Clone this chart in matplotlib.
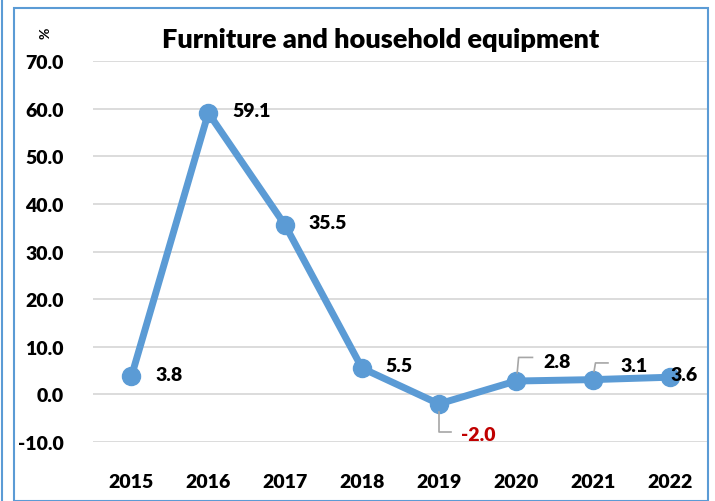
import matplotlib.pyplot as plt
from matplotlib.patches import Rectangle
from matplotlib.lines import Line2D

years = ["2015", "2016", "2017", "2018", "2019", "2020", "2021", "2022"]
values = [3.8, 59.1, 35.5, 5.5, -2.0, 2.8, 3.1, 3.6]
yticks = [-10, 0, 10, 20, 30, 40, 50, 60, 70]

blue = "#5B9BD5"
plt.rcParams["font.family"] = ["Lato", "DejaVu Sans"]

fig = plt.figure(figsize=(7.15, 5.02), dpi=100)
W, H = 715, 502
ax = fig.add_axes([93 / W, 1 - 443 / H, (708 - 93) / W, (443 - 62) / H])

x = list(range(len(years)))
ax.plot(x, values, color=blue, lw=5, marker="o", ms=13,
        markerfacecolor=blue, markeredgecolor=blue, solid_joinstyle="round")

ax.set_xlim(-0.5, len(years) - 0.5)
ax.set_ylim(-10, 70)
ax.set_yticks(yticks)
ax.set_yticklabels([f"{v:.1f}" for v in yticks], fontsize=14, fontweight="heavy")
ax.set_xticks(x)
ax.set_xticklabels(years, fontsize=14, fontweight="heavy")
ax.tick_params(length=0)
ax.tick_params(axis="y", pad=21)
ax.tick_params(axis="x", pad=22)
ax.grid(axis="y", color="#D9D9D9", lw=1.3)
ax.set_axisbelow(True)
for s in ax.spines.values():
    s.set_visible(False)

# data labels (offsets in points)
offsets = [(17, 1), (17, 2), (17, 2), (17, 2), (16, -22), (20, 14), (20, 10), (1, 2)]
for i, v in enumerate(values):
    dx, dy = offsets[i]
    col = "#C00000" if v < 0 else "black"
    ax.annotate(f"{v:.1f}", (i, v), xytext=(dx, dy), textcoords="offset points",
                ha="left", va="center", fontsize=14, fontweight="heavy", color=col)

# leader lines (offsets in points from the data point)
lead = "#A6A6A6"
leaders = {4: [(0, -6), (0, -20), (9, -20)],
           5: [(1, 6), (2, 17), (12, 17)],
           6: [(1, 6), (2, 12), (11, 12)]}
for i, path in leaders.items():
    px, py = ax.transData.transform((i, values[i]))
    xs = [px + a * 100 / 72 for a, b in path]
    ys = [py + b * 100 / 72 for a, b in path]
    fig.lines.append(Line2D(xs, ys, transform=None, color=lead, lw=1.2))

# title and unit
fig.text(381 / W, 1 - 40 / H, "Furniture and household equipment", ha="center",
         va="center", fontsize=19.5, fontweight="heavy")
fig.text(46 / W, 1 - 33 / H, "%", ha="center", va="center", rotation=90,
         fontsize=10, fontweight="bold")

# chart frame
fig.patches.append(Rectangle((14 / W, 0), (708 - 14) / W, 1 - 9 / H,
                             transform=fig.transFigure, fill=False,
                             edgecolor=blue, lw=1.5))
fig.lines.append(Line2D([1.5 / W, 1.5 / W], [0, 1], transform=fig.transFigure,
                        color=blue, lw=1.5))

fig.savefig("out.png", dpi=100)
